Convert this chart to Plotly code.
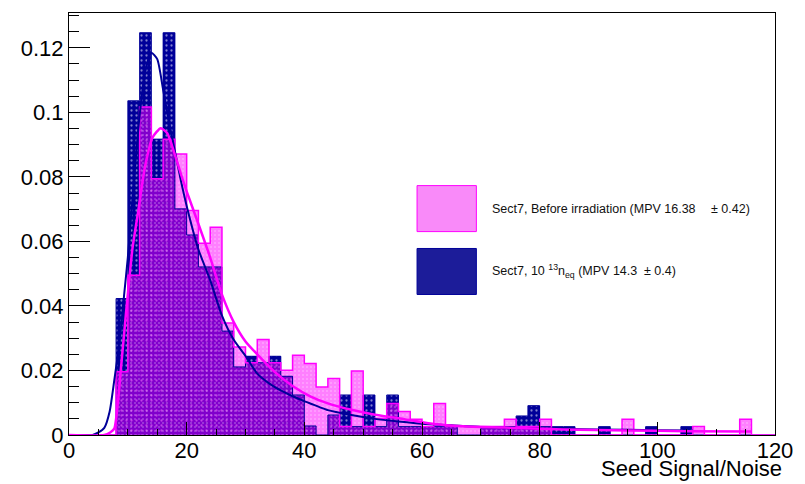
import numpy as np
import plotly.graph_objects as go

# Seed S/N histograms, normalised to unit area, bin width 2
BIN_WIDTH = 2.0
BIN_LOW = list(range(0, 120, 2))

before_irr = [
    0, 0, 0, 0, 0.0196, 0.0495, 0.1017, 0.0794, 0.0917, 0.0871,
    0.0696, 0.0594, 0.0644, 0.0347, 0.0273, 0.0224, 0.0296, 0.0224, 0.0201, 0.0247,
    0.0222, 0.0149, 0.0175, 0.0026, 0.0198, 0.0026, 0.0052, 0.0098, 0.0073, 0.0049,
    0.0026, 0.0098, 0.0026, 0.0026, 0.0026, 0.0026, 0.0026, 0.0049, 0.0026, 0.0026,
    0.0049, 0, 0, 0, 0, 0, 0, 0.0049, 0, 0,
    0, 0, 0, 0.0026, 0, 0, 0, 0.0049, 0, 0,
]
irr_1e13 = [
    0, 0, 0, 0, 0.0423, 0.1036, 0.1247, 0.0917, 0.1247, 0.0701,
    0.0620, 0.0521, 0.0521, 0.0322, 0.0211, 0.0244, 0.0224, 0.0244, 0.0182, 0.0124,
    0.0028, 0, 0.0062, 0.0124, 0.0026, 0.0124, 0.0026, 0.0124, 0.0026, 0.0026,
    0.0026, 0.0026, 0.0026, 0, 0, 0.0026, 0.0026, 0.0026, 0.0059, 0.0091,
    0.0026, 0.0026, 0.0026, 0, 0, 0.0026, 0, 0, 0, 0.0026,
    0, 0, 0.0026, 0, 0, 0, 0, 0, 0, 0,
]

# Landau (x) Gauss fit curves, sampled
fit_before_x = [0, 6, 7, 7.7, 8.3, 8.8, 9.7, 10.8, 11.7, 12.9, 14.2, 15.6, 16.7, 17.8,
                19, 20, 22, 24, 26, 28, 30, 32, 35, 38, 41, 44, 48, 52, 56, 62,
                67, 74, 84, 95, 105, 116]
fit_before_y = [0, 0, 0.0008, 0.002, 0.0099, 0.02, 0.038, 0.058, 0.0685, 0.083, 0.0922,
                0.0951, 0.0935, 0.088, 0.081, 0.0755, 0.0654, 0.055, 0.0435, 0.035,
                0.029, 0.025, 0.0195, 0.0152, 0.012, 0.0098, 0.0078, 0.0063, 0.0052,
                0.0034, 0.0027, 0.0023, 0.0017, 0.0014, 0.0012, 0.0011]
fit_irr_x = [0, 4, 5, 6, 6.9, 7.7, 8.6, 9.4, 10, 11, 12, 13, 14, 15, 16, 17, 18, 19,
             20, 22, 24, 26, 28, 30, 32, 34, 36, 38, 40, 44, 48, 52, 56, 60, 65, 70,
             80, 90, 100, 106]
fit_irr_y = [0, 0, 0.0008, 0.0022, 0.0072, 0.017, 0.029, 0.044, 0.055, 0.078, 0.099,
             0.113, 0.1185, 0.1165, 0.107, 0.097, 0.088, 0.079, 0.071, 0.0575, 0.048,
             0.037, 0.0295, 0.0245, 0.019, 0.016, 0.0138, 0.012, 0.0105, 0.0077,
             0.0062, 0.005, 0.0042, 0.0035, 0.003, 0.0025, 0.002, 0.0017, 0.0015, 0.0014]

PINK = "#ff00ff"
NAVY = "#000099"
FONT = "Liberation Sans, Arial, Helvetica, sans-serif"

centers = [lo + BIN_WIDTH / 2 for lo in BIN_LOW]


def step_outline(values):
    xs = list(BIN_LOW) + [BIN_LOW[-1] + BIN_WIDTH, BIN_LOW[-1] + BIN_WIDTH]
    ys = list(values) + [values[-1], 0]
    return xs, ys


fig = go.Figure()

# irradiated sensor histogram (dotted navy fill)
fig.add_trace(go.Bar(
    x=centers, y=irr_1e13, width=BIN_WIDTH,
    marker=dict(color=NAVY, line=dict(width=0),
                pattern=dict(shape=".", fillmode="overlay", fgcolor="white",
                             size=5, solidity=0.16)),
    hoverinfo="skip", showlegend=False))
ox, oy = step_outline(irr_1e13)
fig.add_trace(go.Scatter(x=ox, y=oy, mode="lines", line=dict(color=NAVY, width=1, shape="hv"),
                         hoverinfo="skip", showlegend=False))

# non-irradiated sensor histogram (dotted magenta fill)
fig.add_trace(go.Bar(
    x=centers, y=before_irr, width=BIN_WIDTH,
    marker=dict(color="rgba(255,0,255,0.5)", line=dict(width=0),
                pattern=dict(shape=".", fillmode="overlay", fgcolor="rgba(255,255,255,0.55)",
                             size=4, solidity=0.2)),
    hoverinfo="skip", showlegend=False))
ox, oy = step_outline(before_irr)
fig.add_trace(go.Scatter(x=ox, y=oy, mode="lines", line=dict(color=PINK, width=1.5, shape="hv"),
                         hoverinfo="skip", showlegend=False))

# fit curves
fig.add_trace(go.Scatter(x=fit_irr_x, y=fit_irr_y, mode="lines",
                         line=dict(color=NAVY, width=2, shape="spline", smoothing=0.6),
                         hoverinfo="skip", showlegend=False))
fig.add_trace(go.Scatter(x=fit_before_x, y=fit_before_y, mode="lines",
                         line=dict(color=PINK, width=2.5, shape="spline", smoothing=0.6),
                         hoverinfo="skip", showlegend=False))

# legend boxes
fig.add_shape(type="rect", xref="paper", yref="paper", x0=0.493, x1=0.577, y0=0.482, y1=0.591,
              fillcolor="#f98af9", line=dict(color=PINK, width=1))
fig.add_shape(type="rect", xref="paper", yref="paper", x0=0.493, x1=0.577, y0=0.333, y1=0.442,
              fillcolor="#1c1c99", line=dict(color=NAVY, width=1))

legend_font = dict(family=FONT, size=12.5, color="#111111")
fig.add_annotation(xref="paper", yref="paper", x=0.5966, y=0.5366, xanchor="left", yanchor="middle",
                   text="Sect7, Before irradiation (MPV 16.38", showarrow=False, font=legend_font)
fig.add_annotation(xref="paper", yref="paper", x=0.9062, y=0.5366, xanchor="left", yanchor="middle",
                   text="± 0.42)", showarrow=False, font=legend_font)
fig.add_annotation(xref="paper", yref="paper", x=0.5966, y=0.3877, xanchor="left", yanchor="middle",
                   text="Sect7, 10 <sup>13</sup>n<sub>eq</sub> (MPV 14.3", showarrow=False, font=legend_font)
fig.add_annotation(xref="paper", yref="paper", x=0.8123, y=0.3877, xanchor="left", yanchor="middle",
                   text="± 0.4)", showarrow=False, font=legend_font)

# x-axis title, right aligned
fig.add_annotation(xref="paper", yref="paper", x=1.011, y=-0.0804, xanchor="right", yanchor="middle",
                   text="Seed Signal/Noise", showarrow=False, borderpad=0,
                   font=dict(family=FONT, size=22, color="black"))

fig.update_layout(
    width=805, height=484,
    margin=dict(l=69, r=22, t=12, b=49),
    paper_bgcolor="white", plot_bgcolor="white",
    barmode="overlay", bargap=0,
    font=dict(family=FONT, size=22, color="black"),
)
fig.update_xaxes(
    range=[0, 120], dtick=20, tick0=0,
    showgrid=False, zeroline=False,
    showline=True, linecolor="black", linewidth=1, mirror=True,
    ticks="inside", ticklen=13, tickcolor="black", tickwidth=1,
    minor=dict(dtick=5, ticks="inside", ticklen=6, tickcolor="black"),
    tickfont=dict(family=FONT, size=22, color="black"),
    ticklabelstandoff=-4,
)
fig.update_yaxes(
    range=[0, 0.1308], dtick=0.02, tick0=0,
    showgrid=False, zeroline=False,
    showline=True, linecolor="black", linewidth=1, mirror=True,
    ticks="inside", ticklen=21, tickcolor="black", tickwidth=1,
    minor=dict(dtick=0.005, ticks="inside", ticklen=10, tickcolor="black"),
    tickfont=dict(family=FONT, size=22, color="black"),
)

fig.write_html("out.html")
